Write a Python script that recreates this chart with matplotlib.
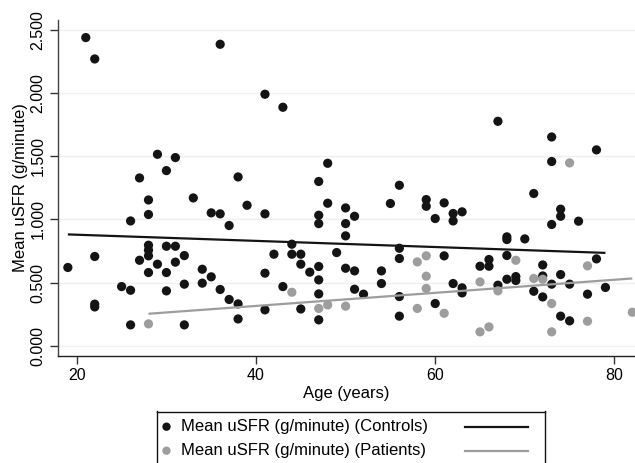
import numpy as np
import matplotlib
matplotlib.use("Agg")
import matplotlib.pyplot as plt
from matplotlib.lines import Line2D

plt.rcParams['font.family'] = ['Liberation Sans', 'DejaVu Sans']

# ---- data: Controls ----
ctrl_age = [21, 22, 36, 29, 31, 27, 30, 28, 33, 41, 43, 48, 38, 47, 56, 67, 73, 78, 73, 71,
            59, 61, 28, 26, 35, 36, 19, 22, 22, 22, 27, 28, 28, 28, 28, 29, 30, 31, 30, 31,
            32, 30, 32, 25, 26, 26, 32, 34, 34, 35, 36, 39, 48, 55, 37, 41, 47, 47, 50, 51,
            50, 50, 44, 42, 44, 45, 45, 46, 41, 47, 47, 47, 47, 43, 45, 41, 38, 38, 37, 49,
            50, 51, 51, 52, 54, 54, 56, 56, 56, 56, 59, 60, 62, 62, 63, 74, 74, 73, 76, 68,
            68, 70, 61, 60, 62, 63, 63, 65, 66, 66, 67, 68, 68, 69, 69, 72, 72, 71, 72, 73,
            74, 74, 75, 75, 78, 77, 79]
ctrl_val = [2.438, 2.269, 2.385, 1.515, 1.489, 1.328, 1.386, 1.154, 1.170, 1.990, 1.887, 1.444,
            1.336, 1.300, 1.270, 1.776, 1.652, 1.550, 1.458, 1.205, 1.157, 1.131, 1.039, 0.988,
            1.052, 1.044, 0.620, 0.707, 0.330, 0.308, 0.677, 0.796, 0.757, 0.712, 0.580, 0.646,
            0.788, 0.788, 0.580, 0.662, 0.714, 0.435, 0.488, 0.469, 0.440, 0.166, 0.166, 0.606,
            0.496, 0.546, 0.446, 1.112, 1.128, 1.126, 0.952, 1.044, 1.033, 0.967, 1.091, 1.025,
            0.967, 0.870, 0.804, 0.725, 0.725, 0.725, 0.646, 0.583, 0.575, 0.628, 0.522, 0.411,
            0.206, 0.469, 0.292, 0.285, 0.213, 0.332, 0.367, 0.738, 0.614, 0.593, 0.448, 0.409,
            0.593, 0.493, 0.772, 0.691, 0.390, 0.235, 1.104, 1.007, 1.047, 0.988, 1.060, 1.081,
            1.025, 0.960, 0.986, 0.862, 0.841, 0.846, 0.712, 0.335, 0.493, 0.459, 0.419, 0.630,
            0.683, 0.630, 0.480, 0.715, 0.527, 0.548, 0.517, 0.640, 0.553, 0.432, 0.387, 0.488,
            0.564, 0.235, 0.488, 0.198, 0.688, 0.409, 0.462]

# ---- data: Patients ----
pat_age = [28, 44, 47, 48, 50, 58, 58, 59, 59, 59, 61, 65, 65, 66, 67, 69, 71, 72, 73, 73,
           75, 77, 77, 82]
pat_val = [0.174, 0.424, 0.296, 0.324, 0.314, 0.664, 0.296, 0.712, 0.551, 0.454, 0.258, 0.506,
           0.111, 0.150, 0.435, 0.677, 0.533, 0.527, 0.335, 0.111, 1.447, 0.633, 0.195, 0.266]

x_ticks = [20, 40, 60, 80]
y_ticks = [0.0, 0.5, 1.0, 1.5, 2.0, 2.5]
y_ticklabels = ["0.000", "0.500", "1.000", "1.500", "2.000", "2.500"]

label_ctrl = "Mean uSFR (g/minute) (Controls)"
label_pat = "Mean uSFR (g/minute) (Patients)"

c_ctrl = "#141414"
c_pat = "#9d9d9d"

W, H = 635, 463
fig = plt.figure(figsize=(W / 100, H / 100), dpi=100)
ax = fig.add_axes([58 / W, 1 - 356 / H, (W - 58) / W, (356 - 20) / H])

ax.set_xlim(17.9, 82.3)
ax.set_ylim(-0.080, 2.577)

for yt in y_ticks:
    ax.axhline(yt, color="#efefef", lw=1.0, zorder=0)

ax.scatter(ctrl_age, ctrl_val, s=44, color=c_ctrl, edgecolors="none", zorder=3)
ax.scatter(pat_age, pat_val, s=44, color=c_pat, edgecolors="none", zorder=3)

for ages, vals, col in [(ctrl_age, ctrl_val, c_ctrl), (pat_age, pat_val, c_pat)]:
    a = np.array(ages, float)
    v = np.array(vals, float)
    k, b = np.polyfit(a, v, 1)
    xs = np.array([a.min(), a.max()])
    ax.plot(xs, k * xs + b, color=col, lw=1.6, zorder=4, solid_capstyle="butt")

ax.set_xticks(x_ticks)
ax.set_yticks(y_ticks)
ax.set_yticklabels(y_ticklabels, rotation=90, va="center")
ax.tick_params(axis="both", direction="out", length=6, width=1, colors="#333333",
               labelsize=11.5, labelcolor="black")
ax.tick_params(axis="x", pad=3)
ax.tick_params(axis="y", pad=3)

for s in ["top", "right"]:
    ax.spines[s].set_visible(False)
ax.spines["left"].set_color("#444444")
ax.spines["bottom"].set_color("#222222")
ax.spines["left"].set_linewidth(1.0)
ax.spines["bottom"].set_linewidth(1.0)

ax.set_xlabel("Age (years)", fontsize=12, labelpad=2)
ax.set_ylabel("Mean uSFR (g/minute)", fontsize=12, labelpad=2)

# ---- legend (Stata style: marker, text, line key on the right) ----
lx0, lx1, ly0, ly1 = 157, 545, 411.5, 470
lg = fig.add_axes([lx0 / W, 1 - ly1 / H, (lx1 - lx0) / W, (ly1 - ly0) / H])
lg.set_xlim(lx0, lx1)
lg.set_ylim(ly1, ly0)
lg.set_xticks([])
lg.set_yticks([])
for s in lg.spines.values():
    s.set_color("#111111")
    s.set_linewidth(1.0)

rows = [(426.7, c_ctrl, label_ctrl), (450.7, c_pat, label_pat)]
for yy, col, lab in rows:
    lg.scatter([166.5], [yy], s=36, color=col, edgecolors="none")
    lg.text(181, yy, lab, fontsize=12, va="center", ha="left")
    lg.add_line(Line2D([465, 528], [yy, yy], color=col, lw=1.6))

fig.savefig("out.png", dpi=100)
